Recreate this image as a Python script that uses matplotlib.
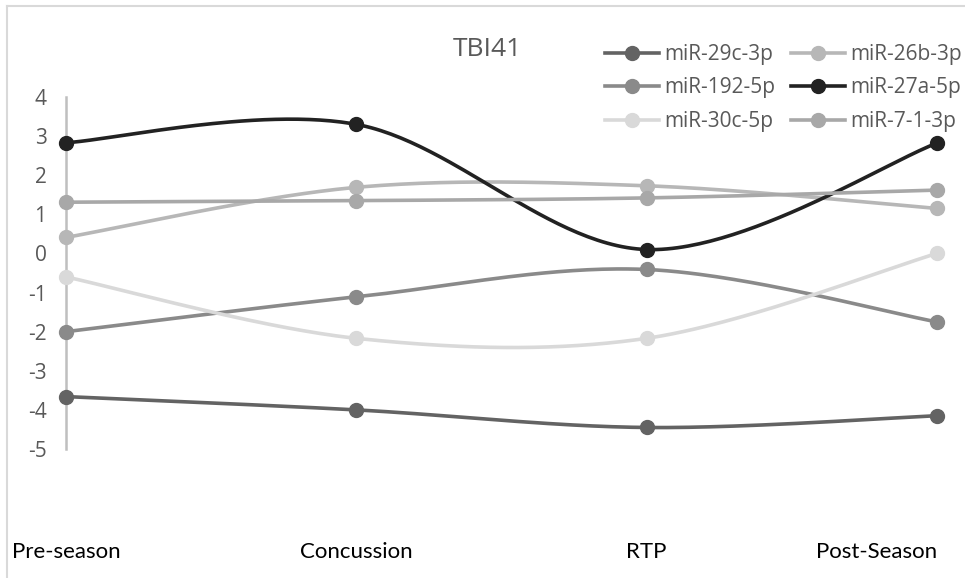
import numpy as np
import matplotlib
matplotlib.use("Agg")
import matplotlib.pyplot as plt
from matplotlib.lines import Line2D

categories = ["Pre-season", "Concussion", "RTP", "Post-Season"]
series_names = ["miR-29c-3p", "miR-26b-3p", "miR-192-5p", "miR-27a-5p", "miR-30c-5p", "miR-7-1-3p"]
mir_29c_3p = [-3.66, -4.00, -4.45, -4.15]
mir_26b_3p = [0.41, 1.69, 1.73, 1.15]
mir_192_5p = [-2.00, -1.11, -0.41, -1.75]
mir_27a_5p = [2.83, 3.30, 0.10, 2.82]
mir_30c_5p = [-0.60, -2.17, -2.17, 0.00]
mir_7_1_3p = [1.31, 1.35, 1.42, 1.62]
yticks = [4, 3, 2, 1, 0, -1, -2, -3, -4, -5]

series_values = [mir_29c_3p, mir_26b_3p, mir_192_5p, mir_27a_5p, mir_30c_5p, mir_7_1_3p]
colors = ["#636363", "#b7b7b7", "#8a8a8a", "#222222", "#d9d9d9", "#a8a8a8"]


def smooth(xs, ys, n=60):
    xs = np.asarray(xs, float)
    ys = np.asarray(ys, float)
    P = np.column_stack([xs, ys])
    P = np.vstack([P[0], P, P[-1]])
    out = []
    t = np.linspace(0, 1, n)[:, None]
    for i in range(1, len(P) - 2):
        p0, p1, p2, p3 = P[i - 1], P[i], P[i + 1], P[i + 2]
        c1 = p1 + (p2 - p0) / 6.0
        c2 = p2 - (p3 - p1) / 6.0
        seg = ((1 - t) ** 3) * p1 + 3 * ((1 - t) ** 2) * t * c1 + 3 * (1 - t) * t ** 2 * c2 + t ** 3 * p2
        out.append(seg if i == 1 else seg[1:])
    out = np.vstack(out)
    return out[:, 0], out[:, 1]


W, H = 965, 578
fig = plt.figure(figsize=(W / 100, H / 100), dpi=100)
fig.patch.set_facecolor("white")

# light chart border (left and top visible)
fig.add_artist(Line2D([7 / W, 7 / W], [0, 1 - 6 / H], color="#d9d9d9", lw=1.5, transform=fig.transFigure))
fig.add_artist(Line2D([7 / W, 1], [1 - 6 / H, 1 - 6 / H], color="#d9d9d9", lw=1.5, transform=fig.transFigure))

left, right = 66 / W, 937 / W
bottom, top = 1 - 449 / H, 1 - 97 / H
ax = fig.add_axes([left, bottom, right - left, top - bottom])
ax.set_xlim(0, 3)
ax.set_ylim(-5, 4)
for s in ["top", "right", "bottom"]:
    ax.spines[s].set_visible(False)
ax.spines["left"].set_color("#bfbfbf")
ax.spines["left"].set_linewidth(1.8)
ax.set_zorder(2)

x = np.arange(len(categories))
handles = {}
for name, vals, col in zip(series_names, series_values, colors):
    sx, sy = smooth(x, vals)
    ax.plot(sx, sy, color=col, lw=2.6, solid_capstyle="round", clip_on=False, zorder=3)
    ax.plot(x, vals, "o", color=col, ms=10, clip_on=False, zorder=4)
    handles[name] = Line2D([], [], color=col, lw=2.6, marker="o", ms=10)

ax.set_yticks(yticks)
ax.set_yticklabels([str(v) for v in yticks], fontsize=15, color="#595959", family="Open Sans")
ax.tick_params(axis="y", length=0, pad=14)

ax.set_xticks(x)
ax.set_xticklabels(categories, fontsize=16, color="#000000", family="Lato")
ax.tick_params(axis="x", length=0, pad=67)
xl = ax.get_xticklabels()
xl[-1].set_ha("right")

fig.text(487 / W, 1 - 50 / H, "TBI41", ha="center", va="center", fontsize=19,
         color="#595959", family="Open Sans")

order = ["miR-29c-3p", "miR-192-5p", "miR-30c-5p", "miR-26b-3p", "miR-27a-5p", "miR-7-1-3p"]
leg = fig.legend([handles[n] for n in order], order, ncol=2, loc="upper left",
                 bbox_to_anchor=(605 / W, 1 - 44 / H), frameon=False,
                 prop={"family": "Open Sans", "size": 15}, handlelength=2.6,
                 handletextpad=0.24, columnspacing=0.75, labelspacing=0.6,
                 borderaxespad=0, borderpad=0)
for t in leg.get_texts():
    t.set_color("#595959")

fig.savefig("out.png", dpi=100, facecolor="white")
